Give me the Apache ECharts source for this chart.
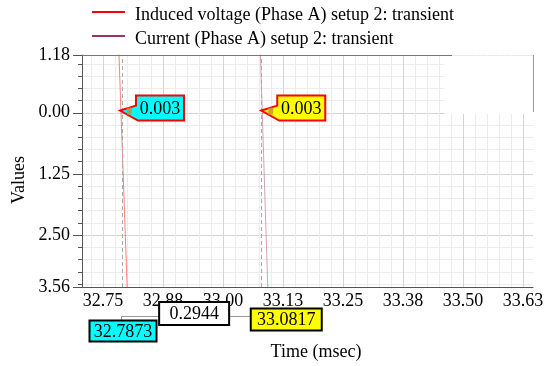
<!DOCTYPE html>
<html><head><meta charset="utf-8">
<script src="https://cdn.jsdelivr.net/npm/echarts@6/dist/echarts.min.js"></script>
<style>html,body{margin:0;padding:0;background:#fff}#c{width:544px;height:366px}</style>
</head><body><div id="c"></div>
<script>
// ---- data ----
const seriesNames = ['Induced voltage (Phase A) setup 2: transient', 'Current (Phase A) setup 2: transient'];
const voltageTime = [32.7823, 32.7873, 32.8006];
const voltageValues = [1.4, 0.003, -3.7];
const currentTime = [33.0772, 33.0817, 33.0936];
const currentValues = [1.4, 0.003, -3.7];
const cursorTimes = [32.7873, 33.0817];
const cursorValues = [0.003, 0.003];
const cursorTimeLabels = ['32.7873', '33.0817'];
const cursorValueLabels = ['0.003', '0.003'];
const deltaLabel = '0.2944';
const xMin = 32.706, xMax = 33.646;
const xMajorTicks = [32.75, 32.875, 33.0, 33.125, 33.25, 33.375, 33.5, 33.625];
const xTickLabels = ['32.75', '32.88', '33.00', '33.13', '33.25', '33.38', '33.50', '33.63'];
const yMin = -3.56, yMax = 1.18;
const yMajorTicks = [-3.56, -2.5, -1.25, 0, 1.18];
const yTickLabels = ['3.56', '2.50', '1.25', '0.00', '1.18'];
const xMinorTicks = [];
for (let i = 0; i <= 36; i++) xMinorTicks.push(Math.round((32.725 + i * 0.025) * 1000) / 1000);
const yMinorTicks = [];
for (let i = 0; i <= 18; i++) yMinorTicks.push(Math.round((-3.5 + i * 0.25) * 100) / 100);

const FONT = '"Liberation Serif", "Times New Roman", serif';
const AX = '#555';
function lab(list, labels) {
  return function (v) {
    for (let i = 0; i < list.length; i++) if (Math.abs(list[i] - v) < 1e-9) return labels[i];
    return '';
  };
}
const chart = echarts.init(document.getElementById('c'), null, {renderer: 'canvas'});
const option = {
  animation: false,
  backgroundColor: '#fff',
  textStyle: {fontFamily: FONT},
  legend: {
    orient: 'vertical', left: 87, top: 1, itemWidth: 33, itemHeight: 8, itemGap: 6,
    icon: 'path://M0,0H33V2H0Z M0,8H0.01V8.01H0Z',
    textStyle: {fontFamily: FONT, fontSize: 18, color: '#000', padding: [0, 0, 0, 5]},
    data: seriesNames
  },
  grid: {left: 82, top: 55, right: 11, bottom: 79, outerBoundsMode: 'none'},
  xAxis: [
    {type: 'value', min: xMin, max: xMax, position: 'bottom',
     axisLine: {show: false, onZero: false}, axisLabel: {show: false},
     axisTick: {show: false, customValues: xMinorTicks},
     splitLine: {show: true, lineStyle: {color: '#ececec', width: 1}}},
    {type: 'value', min: xMin, max: xMax, position: 'bottom',
     axisLine: {show: true, onZero: false, lineStyle: {color: AX, width: 1}},
     axisTick: {show: false, customValues: xMajorTicks},
     axisLabel: {customValues: xMajorTicks, formatter: lab(xMajorTicks, xTickLabels),
       fontFamily: FONT, fontSize: 18, color: '#000', margin: 5},
     splitLine: {show: true, lineStyle: {color: '#d4d4d4', width: 1}}}
  ],
  yAxis: [
    {type: 'value', min: yMin, max: yMax, position: 'left',
     axisLine: {show: false, onZero: false}, axisLabel: {show: false},
     axisTick: {show: true, length: 4, customValues: yMinorTicks, lineStyle: {color: AX}},
     splitLine: {show: true, lineStyle: {color: '#ececec', width: 1}}},
    {type: 'value', min: yMin, max: yMax, position: 'left',
     axisLine: {show: true, onZero: false, lineStyle: {color: AX, width: 1}},
     axisTick: {show: true, length: 9, customValues: yMajorTicks, lineStyle: {color: AX}},
     axisLabel: {customValues: yMajorTicks, formatter: lab(yMajorTicks, yTickLabels),
       fontFamily: FONT, fontSize: 18, color: '#000', margin: 12},
     splitLine: {show: true, lineStyle: {color: '#d4d4d4', width: 1}}}
  ],
  series: [
    {name: seriesNames[0], type: 'line', xAxisIndex: 1, yAxisIndex: 1, symbol: 'none', color: '#ff0000',
     lineStyle: {width: 1, opacity: 0.5}, z: 3,
     data: voltageTime.map((t, i) => [t, voltageValues[i]]),
     markLine: {silent: true, symbol: 'none', label: {show: false},
       lineStyle: {type: [4, 3], color: '#aaaaaa', width: 1, opacity: 1},
       data: cursorTimes.map(t => ({xAxis: t}))}},
    {name: seriesNames[1], type: 'line', xAxisIndex: 1, yAxisIndex: 1, symbol: 'none', color: '#993366',
     lineStyle: {width: 1, opacity: 0.45}, z: 3,
     data: currentTime.map((t, i) => [t, currentValues[i]])}
  ]
};
chart.setOption(option);

// ---- annotations ----
const g = [];
const Z = 100;
const gl = 82, gt = 55, gr = 533, gb = 287;
// frame artefacts
g.push({type: 'rect', z: Z, shape: {x: 444.5, y: 55.5, width: 88.5, height: 58.5}, style: {fill: '#fff'}});
g.push({type: 'line', z: Z + 1, shape: {x1: gl, y1: gt + 0.5, x2: 452, y2: gt + 0.5}, style: {stroke: '#777', lineWidth: 1}});
g.push({type: 'line', z: Z + 1, shape: {x1: gr + 0.5, y1: gt, x2: gr + 0.5, y2: 112}, style: {stroke: '#999', lineWidth: 1}});

const fills = ['#00ffff', '#ffff00'];
const px = cursorTimes.map((t, i) => chart.convertToPixel({xAxisIndex: 1, yAxisIndex: 1}, [t, cursorValues[i]]));
px.forEach((p, i) => {
  const tx = p[0] - 1, ty = p[1] - 2;
  const bx = tx + 16, by = ty - 15, w = 48, h = 25;
  g.push({type: 'polygon', z: Z + 2, shape: {points: [[bx, by], [bx + w, by], [bx + w, by + h], [bx + 2, by + h], [tx, ty], [bx, ty - 5]]},
    style: {fill: fills[i], stroke: '#ff0000', lineWidth: 2}});
  g.push({type: 'rect', z: Z + 3, shape: {x: tx + 7, y: ty - 3, width: 5, height: 7}, style: {fill: '#c98a3c', opacity: 0.8}});
  g.push({type: 'text', z: Z + 4, style: {text: cursorValueLabels[i], x: bx + w / 2, y: by + h / 2 + 1, align: 'center', verticalAlign: 'middle',
    font: '18px ' + FONT, fill: '#000'}});
});
// bottom time boxes
const c0 = px[0][0], c1 = px[1][0];
const boxes = [
  {cx: c0 + 2, y: 320.5, w: 67, h: 21, fill: fills[0], text: cursorTimeLabels[0]},
  {cx: (c0 + c1) / 2 + 2.5, y: 302, w: 70, h: 23, fill: '#ffffff', text: deltaLabel},
  {cx: c1 + 24, y: 308.5, w: 71, h: 22, fill: fills[1], text: cursorTimeLabels[1]}
];
// connectors
g.push({type: 'polyline', z: Z, shape: {points: [[c0 + 0.5, boxes[0].y], [c0 + 0.5, 316.5], [boxes[1].cx - boxes[1].w / 2, 316.5]]}, style: {stroke: '#999', lineWidth: 1, fill: null}});
g.push({type: 'line', z: Z, shape: {x1: boxes[1].cx + boxes[1].w / 2, y1: 316.5, x2: boxes[2].cx - boxes[2].w / 2, y2: 316.5}, style: {stroke: '#999', lineWidth: 1}});
boxes.forEach(b => {
  g.push({type: 'rect', z: Z + 2, shape: {x: b.cx - b.w / 2, y: b.y, width: b.w, height: b.h}, style: {fill: b.fill, stroke: '#000', lineWidth: 2}});
  g.push({type: 'text', z: Z + 3, style: {text: b.text, x: b.cx, y: b.y + b.h / 2 + 1, align: 'center', verticalAlign: 'middle', font: '18px ' + FONT, fill: '#000'}});
});
// axis names
g.push({type: 'text', z: Z, style: {text: 'Time (msec)', x: 316, y: 352, align: 'center', verticalAlign: 'middle', font: '18px ' + FONT, fill: '#000'}});
g.push({type: 'text', z: Z, x: 19, y: 180, rotation: Math.PI / 2, style: {text: 'Values', x: 0, y: 0, align: 'center', verticalAlign: 'middle', font: '18px ' + FONT, fill: '#000'}});
chart.setOption({graphic: {elements: g}});
</script></body></html>
